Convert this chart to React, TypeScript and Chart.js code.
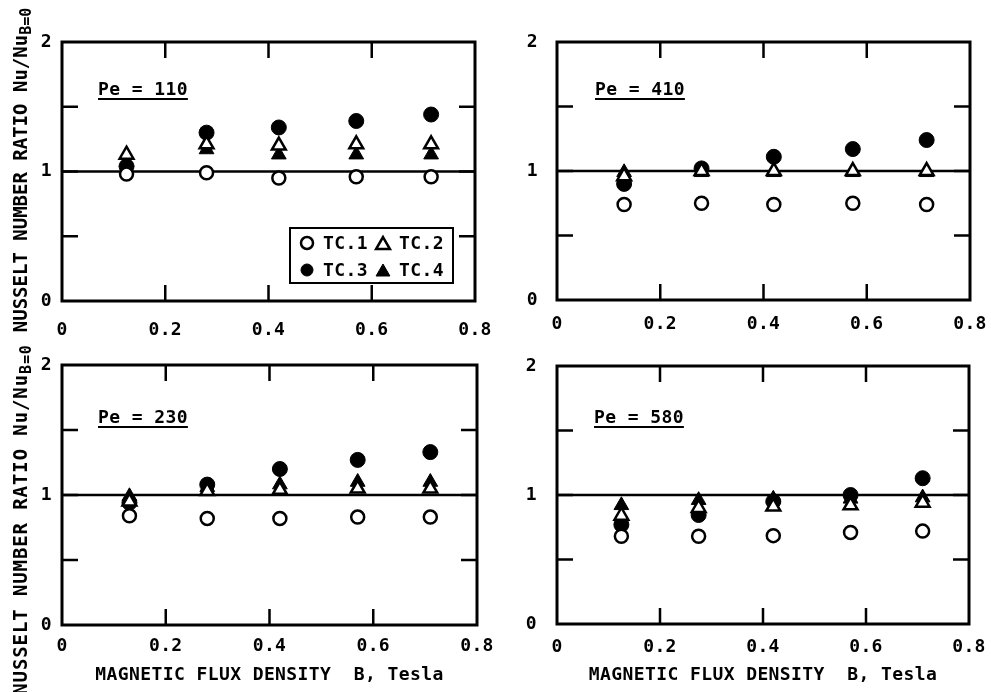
import React, { useEffect, useRef } from 'react';
import { Chart, registerables } from 'chart.js';

Chart.register(...registerables);

// ---------- data ----------
const SERIES_NAMES = ['TC.1', 'TC.2', 'TC.3', 'TC.4'];
const X_TICK_LABELS = ['0', '0.2', '0.4', '0.6', '0.8'];
const Y_TICK_LABELS = ['0', '', '1', '', '2'];
const PE_LABELS = ['Pe = 110', 'Pe = 410', 'Pe = 230', 'Pe = 580'];
const X_TITLE = 'MAGNETIC FLUX DENSITY  B, Tesla';
const Y_TITLE_MAIN = 'NUSSELT NUMBER RATIO Nu/Nu';
const Y_TITLE_SUB = 'B=0';
const UNITY_RATIO = 1;

// Pe = 110
const B_PE110 = [0.125, 0.28, 0.42, 0.57, 0.715];
const TC1_PE110 = [0.98, 0.99, 0.95, 0.96, 0.96];
const TC2_PE110 = [1.13, 1.21, 1.2, 1.21, 1.21];
const TC3_PE110 = [1.04, 1.3, 1.34, 1.39, 1.44];
const TC4_PE110 = [1.07, 1.17, 1.13, 1.13, 1.13];

// Pe = 410
const B_PE410 = [0.13, 0.28, 0.42, 0.573, 0.716];
const TC1_PE410 = [0.74, 0.75, 0.74, 0.75, 0.74];
const TC2_PE410 = [0.96, 1.0, 1.0, 1.0, 1.0];
const TC3_PE410 = [0.9, 1.02, 1.11, 1.17, 1.24];
const TC4_PE410 = [0.99, 0.99, 0.99, 0.99, 0.99];

// Pe = 230
const B_PE230 = [0.13, 0.28, 0.42, 0.57, 0.71];
const TC1_PE230 = [0.84, 0.82, 0.82, 0.83, 0.83];
const TC2_PE230 = [0.95, 1.03, 1.04, 1.05, 1.05];
const TC3_PE230 = [0.94, 1.08, 1.2, 1.27, 1.33];
const TC4_PE230 = [0.99, 1.06, 1.08, 1.1, 1.1];

// Pe = 580
const B_PE580 = [0.125, 0.275, 0.42, 0.57, 0.71];
const TC1_PE580 = [0.68, 0.68, 0.685, 0.71, 0.72];
const TC2_PE580 = [0.84, 0.9, 0.91, 0.92, 0.94];
const TC3_PE580 = [0.77, 0.845, 0.95, 1.0, 1.13];
const TC4_PE580 = [0.92, 0.96, 0.97, 0.97, 0.98];

// ---------- styling / layout ----------
const FONT = "'DejaVu Sans Mono', 'Liberation Mono', monospace";
const TEXT_SIZE = 18;
const TEXT_SPACING = '0.4px';

type MarkerStyle = { style: string; radius: number; fill: string; border: number; order: number };
const MARKERS: MarkerStyle[] = [
  { style: 'circle', radius: 6.5, fill: '#fff', border: 2.5, order: 0 },
  { style: 'triangle', radius: 8, fill: '#fff', border: 2.5, order: 1 },
  { style: 'circle', radius: 7.5, fill: '#000', border: 1, order: 3 },
  { style: 'triangle', radius: 8.5, fill: '#000', border: 1, order: 2 },
];

type Panel = {
  key: string;
  pe: string;
  b: number[];
  tc: number[][];
  left: number; top: number; width: number; height: number;
  padTop: number; padRight: number; xAxisH: number; yAxisW: number;
  xTickPad: number; yTickPad: number;
  peDx: number; peDy: number;
  yTitle: boolean; yTitleCy: number; yTitleSpacing: number;
  xTitle: boolean;
  legend: boolean;
};

const PANELS: Panel[] = [
  {
    key: 'p110', pe: PE_LABELS[0], b: B_PE110, tc: [TC1_PE110, TC2_PE110, TC3_PE110, TC4_PE110],
    left: 0, top: 0, width: 495, height: 345, padTop: 42, padRight: 20, xAxisH: 44, yAxisW: 62,
    xTickPad: 19, yTickPad: 10, peDx: 36, peDy: 53,
    yTitle: true, yTitleCy: 170, yTitleSpacing: 0, xTitle: false, legend: true,
  },
  {
    key: 'p410', pe: PE_LABELS[1], b: B_PE410, tc: [TC1_PE410, TC2_PE410, TC3_PE410, TC4_PE410],
    left: 495, top: 0, width: 496, height: 345, padTop: 42, padRight: 21, xAxisH: 45, yAxisW: 62,
    xTickPad: 14, yTickPad: 19, peDx: 38, peDy: 53,
    yTitle: false, yTitleCy: 0, yTitleSpacing: 0, xTitle: false, legend: false,
  },
  {
    key: 'p230', pe: PE_LABELS[2], b: B_PE230, tc: [TC1_PE230, TC2_PE230, TC3_PE230, TC4_PE230],
    left: 0, top: 345, width: 495, height: 347, padTop: 20, padRight: 18, xAxisH: 67, yAxisW: 62,
    xTickPad: 11, yTickPad: 10, peDx: 36, peDy: 58,
    yTitle: true, yTitleCy: 174.5, yTitleSpacing: 0.9, xTitle: true, legend: false,
  },
  {
    key: 'p580', pe: PE_LABELS[3], b: B_PE580, tc: [TC1_PE580, TC2_PE580, TC3_PE580, TC4_PE580],
    left: 495, top: 345, width: 496, height: 347, padTop: 21, padRight: 22, xAxisH: 68, yAxisW: 62,
    xTickPad: 13, yTickPad: 20, peDx: 37, peDy: 57,
    yTitle: false, yTitleCy: 0, yTitleSpacing: 0, xTitle: true, legend: false,
  },
];

function drawMarker(ctx: CanvasRenderingContext2D, m: MarkerStyle, x: number, y: number) {
  ctx.save();
  ctx.beginPath();
  if (m.style === 'circle') {
    ctx.arc(x, y, m.radius, 0, Math.PI * 2);
  } else {
    let rad = 0;
    const r = m.radius;
    ctx.moveTo(x + Math.sin(rad) * r, y - Math.cos(rad) * r);
    rad += (2 * Math.PI) / 3;
    ctx.lineTo(x + Math.sin(rad) * r, y - Math.cos(rad) * r);
    rad += (2 * Math.PI) / 3;
    ctx.lineTo(x + Math.sin(rad) * r, y - Math.cos(rad) * r);
    ctx.closePath();
  }
  ctx.fillStyle = m.fill;
  ctx.fill();
  ctx.lineWidth = m.border;
  ctx.strokeStyle = '#000';
  ctx.stroke();
  ctx.restore();
}

function PanelChart({ p }: { p: Panel }) {
  const ref = useRef<HTMLCanvasElement | null>(null);

  useEffect(() => {
    if (!ref.current) return;
    const datasets = SERIES_NAMES.map((name, si) => {
      const m = MARKERS[si];
      return {
        label: name,
        data: p.b.map((bx, i) => ({ x: bx, y: p.tc[si][i] })),
        pointStyle: m.style,
        pointRadius: m.radius,
        pointHoverRadius: m.radius,
        pointBackgroundColor: m.fill,
        pointBorderColor: '#000',
        pointBorderWidth: m.border,
        showLine: false,
        order: m.order,
      };
    });

    const framePlugin = {
      id: 'frame' + p.key,
      beforeDraw(chart: any) {
        chart.ctx.letterSpacing = TEXT_SPACING;
      },
      beforeDatasetsDraw(chart: any) {
        const { ctx, chartArea: a, scales } = chart;
        const yy = scales.y.getPixelForValue(UNITY_RATIO);
        ctx.save();
        ctx.strokeStyle = '#000';
        ctx.lineWidth = 2.5;
        ctx.beginPath();
        ctx.moveTo(a.left, yy);
        ctx.lineTo(a.right, yy);
        ctx.stroke();
        ctx.restore();
      },
      afterDatasetsDraw(chart: any) {
        const { ctx, chartArea: a, scales } = chart;
        ctx.save();
        ctx.strokeStyle = '#000';
        ctx.lineWidth = 3;
        ctx.strokeRect(a.left, a.top, a.right - a.left, a.bottom - a.top);
        const tl = 16;
        ctx.lineWidth = 2.5;
        ctx.beginPath();
        scales.x.ticks.forEach((t: any) => {
          if (t.value <= scales.x.min || t.value >= scales.x.max) return;
          const px = scales.x.getPixelForValue(t.value);
          ctx.moveTo(px, a.bottom);
          ctx.lineTo(px, a.bottom - tl);
          ctx.moveTo(px, a.top);
          ctx.lineTo(px, a.top + tl);
        });
        scales.y.ticks.forEach((t: any) => {
          if (t.value <= scales.y.min || t.value >= scales.y.max) return;
          const py = scales.y.getPixelForValue(t.value);
          ctx.moveTo(a.left, py);
          ctx.lineTo(a.left + tl, py);
          ctx.moveTo(a.right, py);
          ctx.lineTo(a.right - tl, py);
        });
        ctx.stroke();

        // Pe label (underlined)
        ctx.fillStyle = '#000';
        ctx.letterSpacing = TEXT_SPACING;
        ctx.font = `bold ${TEXT_SIZE}px ${FONT}`;
        ctx.textAlign = 'left';
        ctx.textBaseline = 'alphabetic';
        const lx = a.left + p.peDx;
        const ly = a.top + p.peDy;
        ctx.fillText(p.pe, lx, ly);
        const w = ctx.measureText(p.pe).width;
        ctx.lineWidth = 2;
        ctx.beginPath();
        ctx.moveTo(lx, ly + 4);
        ctx.lineTo(lx + w, ly + 4);
        ctx.stroke();

        // Legend box
        if (p.legend) {
          const bw = 163;
          const bh = 55;
          const bx = a.right - 22 - bw;
          const by = a.bottom - 18 - bh;
          ctx.lineWidth = 2;
          ctx.strokeRect(bx, by, bw, bh);
          const cols = [17, 93];
          const rows = [15, 42];
          SERIES_NAMES.forEach((name, si) => {
            const cx = bx + cols[si % 2];
            const cy = by + rows[Math.floor(si / 2)];
            const m = MARKERS[si];
            drawMarker(ctx, { ...m, radius: m.style === 'circle' ? 6 : 8 }, cx, m.style === 'triangle' ? cy + 2 : cy);
            ctx.fillStyle = '#000';
            ctx.font = `bold ${TEXT_SIZE}px ${FONT}`;
            ctx.textBaseline = 'middle';
            ctx.fillText(name, cx + 16, cy + 1);
          });
        }

        // Y title with subscript
        if (p.yTitle) {
          ctx.letterSpacing = `${p.yTitleSpacing}px`;
          const mainFont = `bold 19px ${FONT}`;
          const subFont = `bold 15px ${FONT}`;
          ctx.font = mainFont;
          const wMain = ctx.measureText(Y_TITLE_MAIN).width;
          ctx.font = subFont;
          const wSub = ctx.measureText(Y_TITLE_SUB).width;
          const total = wMain + wSub;
          ctx.translate(27, p.yTitleCy);
          ctx.rotate(-Math.PI / 2);
          ctx.textAlign = 'left';
          ctx.textBaseline = 'alphabetic';
          ctx.font = mainFont;
          ctx.fillText(Y_TITLE_MAIN, -total / 2, 0);
          ctx.font = subFont;
          ctx.fillText(Y_TITLE_SUB, -total / 2 + wMain, 4);
        }
        ctx.restore();
      },
    };

    const tickFont = { family: FONT, size: TEXT_SIZE, weight: 'bold' as const };
    // invisible tick marks provide the label offset without enlarging the edge padding
    const hiddenGrid = (len: number) => ({
      display: true,
      drawOnChartArea: false,
      drawTicks: true,
      tickLength: len,
      color: 'rgba(0,0,0,0)',
    });

    const chart = new Chart(ref.current, {
      type: 'scatter',
      data: { datasets: datasets as any },
      options: {
        animation: false,
        responsive: false,
        devicePixelRatio: 1,
        events: [],
        layout: { padding: { top: p.padTop, right: p.padRight, left: 0, bottom: 0 } },
        plugins: { legend: { display: false }, tooltip: { enabled: false } },
        scales: {
          x: {
            type: 'linear',
            min: 0,
            max: 0.8,
            grid: hiddenGrid(p.xTickPad),
            border: { display: false },
            ticks: {
              stepSize: 0.2,
              autoSkip: false,
              maxRotation: 0,
              padding: 0,
              color: '#000',
              font: tickFont,
              callback: (_v: any, i: number) => X_TICK_LABELS[i],
            },
            title: {
              display: p.xTitle,
              text: X_TITLE,
              color: '#000',
              font: { family: FONT, size: TEXT_SIZE, weight: 'bold' },
              padding: { top: 0, bottom: 6 },
            },
            afterFit: (s: any) => {
              s.height = p.xAxisH;
            },
          },
          y: {
            type: 'linear',
            min: 0,
            max: 2,
            grid: hiddenGrid(p.yTickPad),
            border: { display: false },
            ticks: {
              stepSize: 0.5,
              autoSkip: false,
              padding: 0,
              color: '#000',
              font: tickFont,
              callback: (_v: any, i: number) => Y_TICK_LABELS[i],
            },
            afterFit: (s: any) => {
              s.width = p.yAxisW;
            },
          },
        },
      } as any,
      plugins: [framePlugin],
    });
    return () => chart.destroy();
  }, [p]);

  return (
    <canvas
      ref={ref}
      width={p.width}
      height={p.height}
      style={{ position: 'absolute', left: p.left, top: p.top, width: p.width, height: p.height }}
    />
  );
}

export default function App() {
  return (
    <div
      style={{
        position: 'absolute',
        left: 0,
        top: 0,
        width: 991,
        height: 692,
        background: '#fff',
        overflow: 'hidden',
      }}
    >
      {PANELS.map((p) => (
        <PanelChart key={p.key} p={p} />
      ))}
    </div>
  );
}
